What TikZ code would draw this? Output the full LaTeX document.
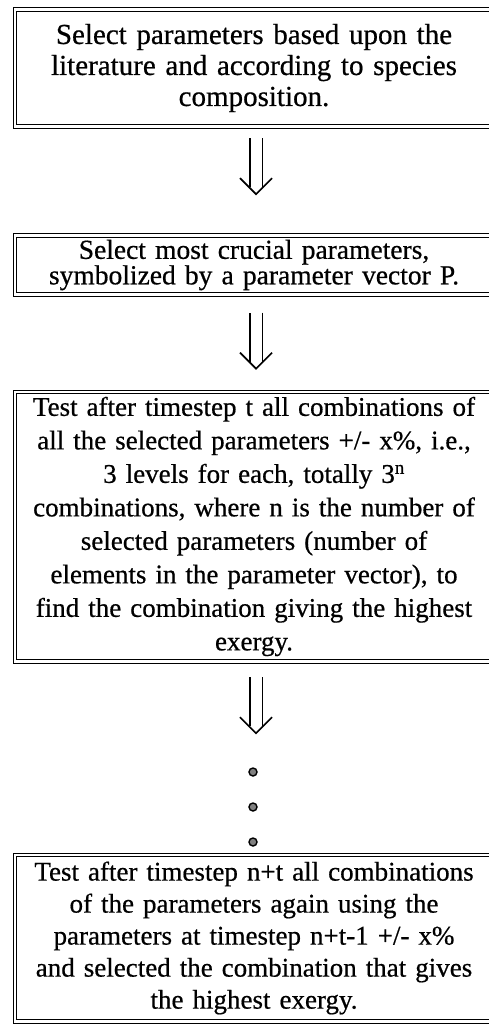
\documentclass[tikz,border=0pt]{standalone}
\usepackage{fontspec}
\setmainfont{Liberation Serif}[FakeBold=0.6]
\usetikzlibrary{positioning, calc}

\begin{document}
\begin{tikzpicture}[
			x=1pt, y=-1pt,
			stepbox/.style={minimum width=478pt, text width=470pt, align=center, inner sep=0pt,
				font=\fontsize{27}{33}\selectfont},
			frame/.style={draw, double, double distance=2.6pt, line width=1pt},
			flow/.style={line width=1.7pt, double distance=11pt},
			tip/.style={line width=1.7pt},
			dot/.style={circle, draw, fill=gray, line width=1.4pt, minimum size=8pt, inner sep=0pt}
			]
			\useasboundingbox (0,0) rectangle (488,1033);
			
			% Boxes
			\node[stepbox, minimum height=116pt, font=\fontsize{29}{31}\selectfont] (lit) at (254,68)
				{Select parameters based upon the\\literature and according to species\\composition.};
			\node[stepbox, minimum height=59pt, font=\fontsize{27.5}{25.5}\selectfont] (crucial) at (254,265)
				{Select most crucial parameters,\\symbolized by a parameter vector P.};
			\node[stepbox, minimum height=269pt, font=\fontsize{27}{33.5}\selectfont] (comb) at (254,526.5)
				{Test after timestep t all combinations of\\all the selected parameters +/- x\%, i.e.,\\3 levels for each, totally 3\textsuperscript{n}\\combinations, where n is the number of\\selected parameters (number of\\elements in the parameter vector), to\\find the combination giving the highest\\exergy.};
			\node[stepbox, minimum height=166pt, font=\fontsize{27}{32}\selectfont] (again) at (254,938)
				{Test after timestep n+t all combinations\\of the parameters again using the\\parameters at timestep n+t-1 +/- x\%\\and selected the combination that gives\\the highest exergy.};
			
			% Frames, running off the right edge of the page
			\draw[frame] (lit.north west) rectangle ([xshift=30pt]lit.south east);
			\draw[frame] (crucial.north west) rectangle ([xshift=30pt]crucial.south east);
			\draw[frame] (comb.north west) rectangle ([xshift=30pt]comb.south east);
			\draw[frame] (again.north west) rectangle ([xshift=30pt]again.south east);
			
			% Arrows
			\foreach \src/\arr/\gap in {lit/a1/12, crucial/a2/18, comb/a3/16} {
				\coordinate (\arr s) at ([xshift=2pt, yshift=-\gap pt]\src.south);
				\coordinate (\arr e) at ([yshift=-56pt]\arr s);
				\draw[flow] (\arr s) -- ([yshift=7pt]\arr e);
				\draw[tip] ([xshift=-16pt, yshift=16pt]\arr e) -- (\arr e) -- ([xshift=16pt, yshift=16pt]\arr e);
			}
			
			% Dots
			\foreach \i/\y in {1/772, 2/807, 3/842}
				\node[dot] (d\i) at (253,\y) {};
			
		\end{tikzpicture}
\end{document}
